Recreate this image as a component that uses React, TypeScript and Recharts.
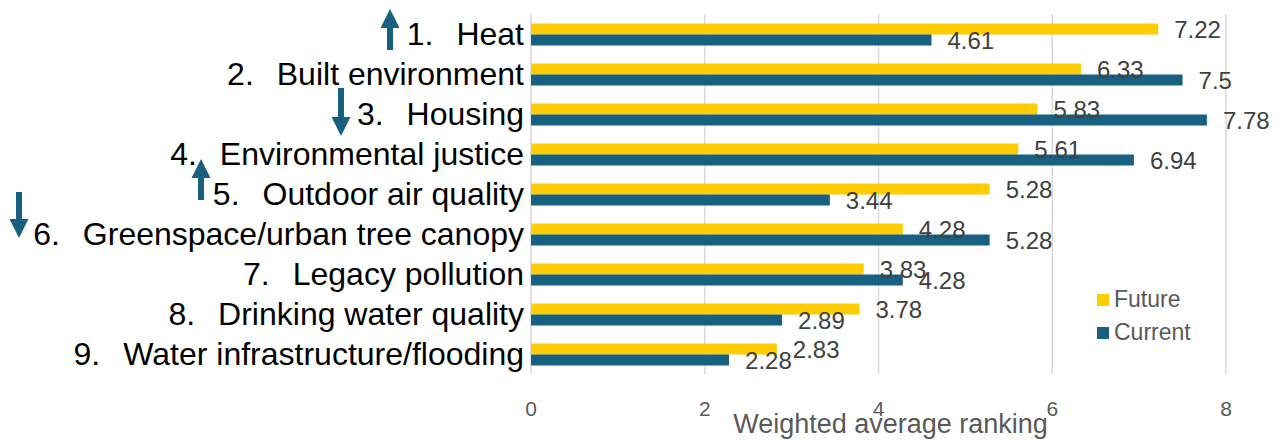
import { BarChart, Bar, XAxis, YAxis, CartesianGrid, Legend, LabelList } from "recharts";

const categories = [
  "Heat",
  "Built environment",
  "Housing",
  "Environmental justice",
  "Outdoor air quality",
  "Greenspace/urban tree canopy",
  "Legacy pollution",
  "Drinking water quality",
  "Water infrastructure/flooding",
];
const future = [7.22, 6.33, 5.83, 5.61, 5.28, 4.28, 3.83, 3.78, 2.83];
const current = [4.61, 7.5, 7.78, 6.94, 3.44, 5.28, 4.28, 2.89, 2.28];
const xTicks = [0, 2, 4, 6, 8];
const seriesOrder = ["Future", "Current"];

// rank-change arrows next to some labels (offsets relative to the tick)
const arrows = [
  { cat: "Heat", dir: "up", dx: -134, top: -25, bottom: 16 },
  { cat: "Housing", dir: "down", dx: -183, top: -26, bottom: 22 },
  { cat: "Outdoor air quality", dir: "up", dx: -323, top: -35, bottom: 6 },
  { cat: "Greenspace/urban tree canopy", dir: "down", dx: -505, top: -42, bottom: 4 },
];

const data = categories.map((name, i) => ({
  name,
  Future: future[i],
  Current: current[i],
}));

const YELLOW = "#FFCC00";
const BLUE = "#176080";
const FONT = "'Liberation Sans', Arial, sans-serif";

function Arrow({ x, y, dir, top, bottom }: any) {
  const y1 = y + top;
  const y2 = y + bottom;
  const head = 19;
  const hw = 9.5;
  const sw = 3;
  const pts =
    dir === "up"
      ? [
          [x, y1],
          [x + hw, y1 + head],
          [x + sw, y1 + head],
          [x + sw, y2],
          [x - sw, y2],
          [x - sw, y1 + head],
          [x - hw, y1 + head],
        ]
      : [
          [x, y2],
          [x + hw, y2 - head],
          [x + sw, y2 - head],
          [x + sw, y1],
          [x - sw, y1],
          [x - sw, y2 - head],
          [x - hw, y2 - head],
        ];
  return <polygon points={pts.map((p) => p.join(",")).join(" ")} fill={BLUE} />;
}

function CategoryTick({ x, y, payload }: any) {
  const idx = categories.indexOf(payload.value);
  const arrow = arrows.find((a) => a.cat === payload.value);
  return (
    <g>
      <text x={x} y={y} dy={11} textAnchor="end" fontSize={32} fill="#000" fontFamily={FONT}>
        <tspan>{idx + 1}.</tspan>
        <tspan dx={23}>{payload.value}</tspan>
      </text>
      {arrow && (
        <Arrow x={x + arrow.dx} y={y} dir={arrow.dir} top={arrow.top} bottom={arrow.bottom} />
      )}
    </g>
  );
}

function ValueTick({ x, y, payload }: any) {
  return (
    <g>
      <text
        x={x}
        y={y + 16}
        textAnchor="middle"
        fill="#595959"
        style={{ fontSize: "21px", fontFamily: FONT }}
      >
        {payload.value}
      </text>
    </g>
  );
}

function LegendBox({ payload }: any) {
  const items = [...(payload || [])].sort(
    (a: any, b: any) => seriesOrder.indexOf(a.value) - seriesOrder.indexOf(b.value)
  );
  return (
    <div style={{ fontFamily: FONT }}>
      {items.map((p: any) => (
        <div
          key={p.value}
          style={{ display: "flex", alignItems: "center", height: 33, fontSize: 23, color: "#595959" }}
        >
          <span style={{ width: 12, height: 12, background: p.color, marginRight: 5, display: "inline-block" }} />
          {p.value}
        </div>
      ))}
    </div>
  );
}

export default function App() {
  return (
    <div style={{ width: 1280, height: 443, background: "#fff" }}>
      <style>{`body{margin:0}`}</style>
      <BarChart
        width={1280}
        height={443}
        data={data}
        layout="vertical"
        margin={{ top: 14, right: 54, bottom: 0, left: 0 }}
        barCategoryGap={9.5}
        barGap={0}
        style={{ fontFamily: FONT }}
      >
        <CartesianGrid horizontal={false} stroke="#d9d9d9" strokeWidth={1.5} />
        <XAxis
          type="number"
          domain={[0, 8]}
          ticks={xTicks}
          axisLine={false}
          tickLine={false}
          tickMargin={20}
          height={69}
          fontSize={21}
          tick={(props: any) => <ValueTick {...props} />}
          label={{
            value: "Weighted average ranking",
            position: "insideBottom",
            offset: 10,
            dx: 12,
            fontSize: 27,
            fill: "#595959",
          }}
        />
        <YAxis
          type="category"
          dataKey="name"
          width={531}
          axisLine={false}
          tickLine={false}
          tickMargin={1}
          tick={<CategoryTick />}
          interval={0}
        />
        <Legend
          layout="vertical"
          content={<LegendBox />}
          wrapperStyle={{ left: 1097, top: 283, width: 120, height: 0, overflow: "visible" }}
        />
        <Bar dataKey="Future" fill={YELLOW} isAnimationActive={false}>
          <LabelList dataKey="Future" position="right" offset={16} fontSize={24} fill="#404040" />
        </Bar>
        <Bar dataKey="Current" fill={BLUE} isAnimationActive={false}>
          <LabelList dataKey="Current" position="right" offset={16} fontSize={24} fill="#404040" />
        </Bar>
      </BarChart>
    </div>
  );
}
